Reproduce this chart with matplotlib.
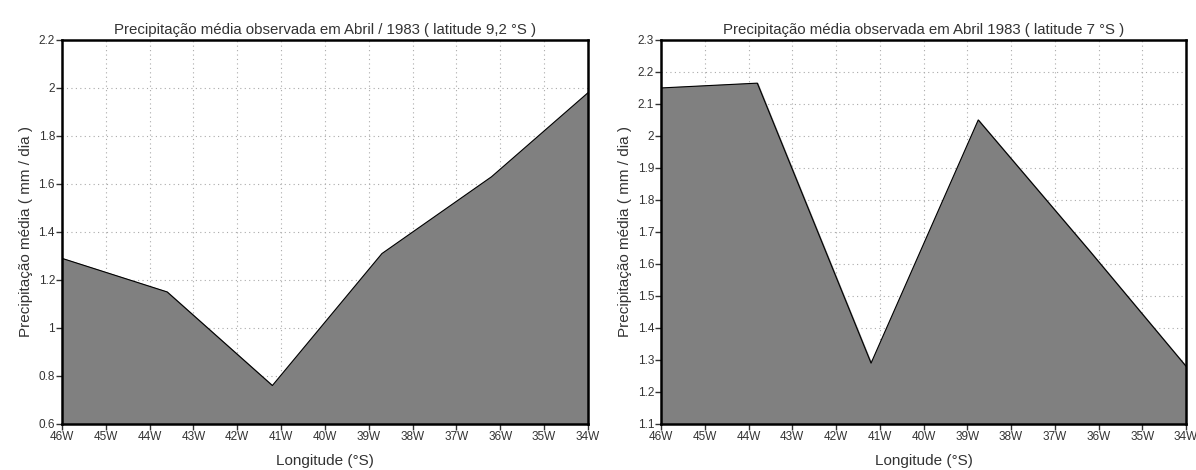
import matplotlib
matplotlib.use('Agg')
import matplotlib.pyplot as plt
from matplotlib.ticker import FuncFormatter

plt.rcParams['font.family'] = ['Liberation Sans Narrow', 'Liberation Sans', 'DejaVu Sans']

# longitude (degrees west, negative) and mean precipitation (mm/day)
lon_a = [-46, -43.6, -41.2, -38.7, -36.2, -34]
prec_a = [1.29, 1.15, 0.76, 1.31, 1.63, 1.98]

lon_b = [-46, -43.8, -41.2, -38.75, -36.2, -34]
prec_b = [2.15, 2.165, 1.29, 2.05, 1.64, 1.28]

titles = ['Precipitação média observada em Abril / 1983 ( latitude 9,2 °S )',
          'Precipitação média observada em Abril 1983 ( latitude 7 °S )']
ylims = [(0.6, 2.2), (1.1, 2.3)]
ysteps = [0.2, 0.1]

fig = plt.figure(figsize=(11.96, 4.70), dpi=100)
ax1 = fig.add_axes([0.0518, 0.098, 0.4398, 0.817])
ax2 = fig.add_axes([0.5527, 0.098, 0.4390, 0.817])

lon_fmt = FuncFormatter(lambda v, p: '%dW' % round(-v))
for ax, lon, prec, title, ylim, step in zip([ax1, ax2], [lon_a, lon_b], [prec_a, prec_b],
                                            titles, ylims, ysteps):
    ax.fill_between(lon, prec, ylim[0], color='#808080', zorder=2)
    ax.plot(lon, prec, color='black', lw=0.8, zorder=3)
    ax.set_xlim(-46, -34)
    ax.set_ylim(*ylim)
    ax.set_xticks(range(-46, -33))
    ax.xaxis.set_major_formatter(lon_fmt)
    n = int(round((ylim[1] - ylim[0]) / step))
    yt = [round(ylim[0] + i * step, 2) for i in range(n + 1)]
    ax.set_yticks(yt)
    ax.set_yticklabels(['%g' % v for v in yt])
    ax.grid(True, color='#aaaaaa', linestyle=(0, (1, 3)), lw=0.8, zorder=1)
    for s in ax.spines.values():
        s.set_linewidth(1.8)
        s.set_zorder(4)
    ax.tick_params(labelsize=8.5, length=4, width=1, pad=1, colors='#333333')
    ax.set_title(title, fontsize=10.8, pad=4, color='#333333')
    ax.set_xlabel('Longitude (°S)', fontsize=11, color='#333333', labelpad=8)
    ax.set_ylabel('Precipitação média ( mm / dia )', fontsize=11, color='#333333')

fig.savefig('out.png', dpi=100)
